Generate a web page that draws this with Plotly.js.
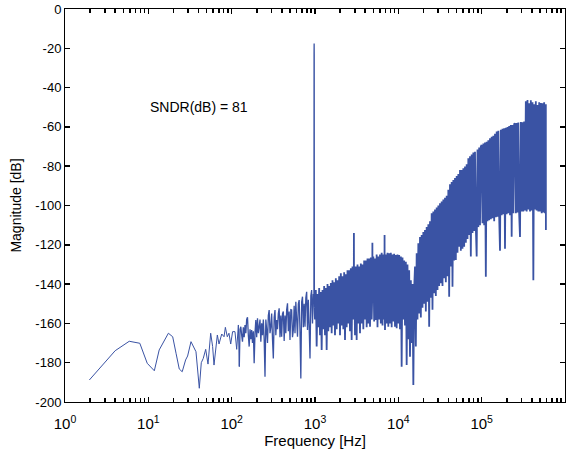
<!DOCTYPE html>
<html>
<head>
<meta charset="utf-8">
<script src="https://cdn.plot.ly/plotly-3.0.1.min.js"></script>
<style>html,body{margin:0;padding:0;background:#fff;}#chart{width:574px;height:455px;}</style>
</head>
<body>
<div id="chart"></div>
<script>
// Low-frequency bins (Hz) and magnitude (dB)
const freqLow = [1.96,4.0,5.9,7.9,9.7,11.8,13.5,17.4,19.6,21.5,
  23.5,25.5,28.0,29.6,32.5,37.3,40.9,43.2,45.6,48.8,
  52.0,56.0,59.1,61.4,67.3,70.5,76.0,81.0,84.0,88.6,
  92.8,97.4,102.6,109.6,114.9,120.3,123.5];
const magLow = [-188.8,-173.9,-169.1,-170.1,-180.3,-184.1,-173.5,-165.0,-166.8,-175.2,
  -183.2,-184.6,-178.6,-176.6,-169.3,-174.4,-193.0,-180.0,-177.8,-173.2,
  -180.7,-165.0,-171.8,-181.2,-165.9,-170.5,-165.4,-166.8,-162.0,-166.8,
  -165.0,-170.5,-164.2,-164.2,-173.2,-160.8,-182.0];

// 126 Hz - 1 kHz, including the 976.6 Hz fundamental
const freqMid = [
  125.9,128.8,131.8,134.9,138.0,141.3,144.5,147.9,151.4,154.9,
  158.5,162.2,166.0,169.8,173.8,177.8,182.0,186.2,190.5,195.0,
  199.5,204.2,208.9,213.8,218.8,223.9,229.1,234.4,239.9,245.5,
  251.2,257.0,263.0,269.2,275.4,281.8,288.4,295.1,302.0,309.0,
  316.2,323.6,331.1,338.8,346.7,354.8,363.1,371.5,380.2,389.0,
  398.1,407.4,416.9,426.6,436.5,446.7,457.1,467.7,478.6,489.8,
  501.2,512.9,524.8,537.0,549.5,562.3,575.4,588.8,602.6,616.6,
  631.0,645.7,660.7,676.1,691.8,707.9,724.4,741.3,758.6,776.2,
  794.3,812.8,831.8,851.1,871.0,891.3,912.0,933.3,955.0,
  970.7,972.7,974.6,976.6,978.5,980.5,983.0];
const magMid = [
  -163,-161.7,-166,-169.3,-162,-167,-160.8,-165,-158,-156.9,
  -166,-171.8,-163,-168,-163.4,-170,-164,-180.3,-165,-158.3,
  -167,-157.4,-165,-161.7,-158,-169.3,-160,-166,-158,-168,
  -187.1,-158,-163.4,-170,-156,-153.2,-165,-161.7,-155,-168,
  -177.8,-157,-153.2,-166,-158.3,-163,-155,-152.3,-167,-156,
  -166.8,-155,-154.0,-169,-156,-165.0,-153,-149.8,-164,-154,
  -168.4,-153,-153.2,-167,-163.4,-151,-165,-149.0,-158,-166.8,
  -150,-148.1,-164,-188.0,-149,-146.4,-162,-150,-161.7,-147,
  -143.9,-163.4,-148,-162,-177.8,-146,-143.0,-160,-145,
  -150,-100,-23,-17.5,-23,-100,-152];

// 1 kHz - 10 kHz (odd harmonics at 2.93, 4.88, 6.84 kHz)
const freqUpper = [
  1000,1023,1047,1072,1096,1122,1148,1175,1202,1230,
  1259,1288,1318,1349,1380,1413,1445,1479,1514,1549,
  1585,1622,1660,1698,1738,1778,1820,1862,1905,1950,
  1995,2042,2089,2138,2188,2239,2291,2344,2399,2455,
  2512,2570,2630,2692,2754,2818,2884,2922,2930,2938,2951,3020,3090,
  3162,3236,3311,3388,3467,3548,3631,3715,3802,3890,
  3981,4074,4169,4266,4365,4467,4571,4677,4786,4872,4883,4894,
  5012,5129,5248,5370,5495,5623,5754,5888,6026,6166,
  6310,6457,6607,6761,6825,6836,6847,6918,7079,7244,7413,7586,7762,
  7943,8128,8318,8511,8710,8913,9120,9333,9550,9772];
const magUpper = [
  -158,-143,-171.8,-145,-162,-142,-166,-144,-173.5,-143,
  -163,-141,-166,-142,-173.5,-140,-164,-141,-162,-139.5,
  -165,-138,-161,-139,-166,-137,-163,-138,-160,-136,
  -166,-134.5,-161,-136,-163,-134,-168.4,-135,-162,-133,
  -160,-133,-164,-132,-168.4,-131,-158,-145,-114,-146,-131,-166,-131,
  -168.4,-130,-160,-131,-165,-129.5,-160,-130,-163,-128,
  -158,-128,-162,-127,-160,-127,-161.7,-126.5,-158,-145,-119,-147,
  -126,-159,-127,-158.3,-125,-162,-126,-158,-125,-160,
  -124,-161,-125,-158,-140,-115,-142,-163.4,-125,-160,-124,-161.7,-124.3,
  -160,-124,-162,-125,-159,-124.5,-161.7,-125.2,-162.5,-125];

// 10 kHz - 590 kHz (shaped noise)
const freqHigh = [
  10000,10230,10470,10720,10960,11220,11480,11750,12020,12300,
  12590,12880,13180,13490,13800,14130,14450,14790,15140,15490,
  15850,16220,16600,16980,17380,17780,18200,18620,19050,19500,
  19950,20420,20890,21380,21880,22390,22910,23440,23990,24550,
  25120,25700,26300,26920,27540,28180,28840,29510,30200,30900,
  31620,32360,33110,33880,34670,35480,36310,37150,38020,38900,
  39810,40740,41690,42660,43650,44670,45710,46770,47860,48980,
  50120,51290,52480,53700,54950,56230,57540,58880,60260,61660,
  63100,64570,66070,67610,69180,70790,72440,74130,75860,77620,
  79430,81280,83180,85110,87100,89130,91200,93330,95500,97720,
  100000,102300,104700,107200,109600,112200,114800,117500,120200,123000,
  125900,128800,131800,134900,138000,141300,144500,147900,151400,154900,
  158500,162200,166000,169800,173800,177800,182000,186200,190500,195000,
  199500,204200,208900,213800,218800,223900,229100,234400,239900,245500,
  251200,257000,263000,269200,275400,281800,288400,295100,302000,309000,
  316200,323600,331100,338800,346700,354800,363100,371500,380200,389000,
  398100,407400,416900,426600,436500,446700,457100,467700,478600,489800,
  501200,512900,524800,537000,549500,562300,575400,588800,590000];
const magHigh = [
  -160,-125.2,-163,-126,-182,-126.5,-158,-128,-161,-128.6,
  -181.2,-130,-168,-133,-177,-138,-170,-140,-191.3,-142,
  -131,-171.8,-124.3,-158,-119.2,-155,-116,-157,-115,-152,
  -113.5,-150,-112.5,-154,-111,-149,-109.5,-161.7,-108,-147,
  -104,-153,-103,-144.7,-102,-146,-101,-143,-100,-141,
  -98.9,-139.6,-98,-141,-97,-137,-96,-139,-95,-136,
  -92,-146.4,-89.2,-131,-88,-141.3,-87,-128,-86,-127.7,
  -85,-124,-84,-121,-82,-123,-81.9,-122,-81,-121,
  -80.2,-119,-79,-117,-76,-115,-75,-126,-74,-114,
  -73,-113,-72.6,-111,-126,-71.5,-111,-70.5,-110,-70,
  -69.2,-109,-68.5,-110,-68,-136.2,-67.5,-108,-66.8,-107.5,
  -65.8,-107,-65,-106.5,-64.5,-108,-63.5,-106,-62.4,-105.7,
  -62,-105.5,-123,-61.5,-105,-61,-104.5,-60.7,-122,-60.5,
  -104.5,-60,-104,-59.5,-105,-59,-115.9,-59,-104,-58.5,
  -58.2,-104,-58,-103.5,-57.8,-104,-116,-57.5,-103,-57.7,
  -103,-57.3,-102.5,-47,-103,-46.3,-102,-48,-103,-46.5,
  -102.5,-47.5,-138,-48.5,-102,-47,-102.5,-48.9,-103,-47.5,
  -103,-47.8,-104,-48,-103.5,-47.5,-104,-48.5,-112.5];

const xTickVals = [1,10,100,1000,10000,100000,1000000];
const xTickText = ['10<sup>0</sup>','10<sup>1</sup>','10<sup>2</sup>','10<sup>3</sup>','10<sup>4</sup>','10<sup>5</sup>','10<sup>6</sup>'];
const xMinorVals = [2,3,4,5,6,7,8,9,20,30,40,50,60,70,80,90,
  200,300,400,500,600,700,800,900,2000,3000,4000,5000,6000,7000,8000,9000,
  20000,30000,40000,50000,60000,70000,80000,90000,
  200000,300000,400000,500000,600000,700000,800000,900000];
const yTickVals = [-200,-180,-160,-140,-120,-100,-80,-60,-40,-20,0];
const yTickText = ['-200','-180','-160','-140','-120','-100','-80','-60','-40','-20','0'];
const sndrText = 'SNDR(dB) = 81';

const font = 'Liberation Sans, Arial, Helvetica, sans-serif';
const blue = '#3a53a4';
const lastLow = freqLow.length - 1;
const lastMid = freqMid.length - 1;
const traces = [
  {
    type: 'scatter', mode: 'lines', x: freqLow, y: magLow,
    line: {color: blue, width: 1.0, simplify: false}, hoverinfo: 'skip'
  },
  {
    type: 'scatter', mode: 'lines',
    x: [freqLow[lastLow]].concat(freqMid), y: [magLow[lastLow]].concat(magMid),
    line: {color: blue, width: 1.3, simplify: false}, hoverinfo: 'skip'
  },
  {
    type: 'scatter', mode: 'lines',
    x: [freqMid[lastMid]].concat(freqUpper, freqHigh),
    y: [magMid[lastMid]].concat(magUpper, magHigh),
    line: {color: blue, width: 1.8, simplify: false}, hoverinfo: 'skip'
  }
];

const layout = {
  width: 574, height: 455,
  margin: {l: 65, r: 9, t: 9, b: 53},
  paper_bgcolor: '#fff', plot_bgcolor: '#fff',
  showlegend: false,
  font: {family: font, color: '#000'},
  xaxis: {
    type: 'log', range: [0, 6],
    tickmode: 'array', tickvals: xTickVals, ticktext: xTickText,
    ticks: 'inside', ticklen: 5, tickcolor: '#000', tickwidth: 1.5,
    ticklabelstandoff: 8,
    minor: {ticks: 'inside', ticklen: 4, tickcolor: '#000', tickwidth: 1.5, tickvals: xMinorVals, showgrid: false},
    showline: true, linecolor: '#000', linewidth: 1, mirror: 'ticks',
    showgrid: false, zeroline: false,
    tickfont: {family: font, size: 15, color: '#000'},
    title: {text: 'Frequency [Hz]', font: {family: font, size: 15, color: '#000'}, standoff: 4}
  },
  yaxis: {
    range: [-200, 0],
    tickmode: 'array', tickvals: yTickVals, ticktext: yTickText,
    ticks: 'inside', ticklen: 5, tickcolor: '#000', tickwidth: 1.5,
    showline: true, linecolor: '#000', linewidth: 1, mirror: 'ticks',
    showgrid: false, zeroline: false,
    tickfont: {family: font, size: 13, color: '#000'},
    title: {text: 'Magnitude [dB]', font: {family: font, size: 14, color: '#000'}, standoff: 10}
  },
  annotations: [{
    text: sndrText, xref: 'x', yref: 'y', x: 0.996, y: -49.7,
    xanchor: 'left', yanchor: 'middle', showarrow: false,
    font: {family: font, size: 14, color: '#000'}
  }]
};
Plotly.newPlot('chart', traces, layout, {staticPlot: true, displayModeBar: false});
</script>
</body>
</html>
